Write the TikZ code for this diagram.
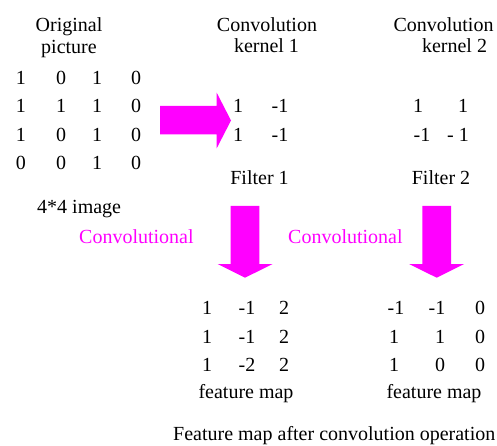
\documentclass[tikz,border=0pt]{standalone}
\usepackage{fontspec}
\setmainfont{Liberation Serif}
\definecolor{mag}{HTML}{FF00FF}
\begin{document}
\begin{tikzpicture}[x=1pt,y=-1pt,
  txt/.style={inner sep=0pt,anchor=base,font=\fontsize{20}{24}\selectfont},
  txtl/.style={txt,anchor=base west},
  magtxt/.style={txtl,text=mag},
  blockarrow/.style={fill=mag,draw=none}]
\useasboundingbox (0,0) rectangle (497,446);
% headings
\node[txt] (orig1) at (69,31.7) {Original};
\node[txt] (orig2) at (69,54) {picture};
\node[txt] (k1a) at (267,32) {Convolution};
\node[txt] (k1b) at (266.5,53) {kernel 1};
\node[txt] (k2a) at (443.5,32) {Convolution};
\node[txt] (k2b) at (454.5,53) {kernel 2};
% original matrix
\foreach \r/\y/\a/\b/\c/\d in {1/85/1/0/1/0, 2/113/1/1/1/0, 3/142/1/0/1/0, 4/170/0/0/1/0}{
  \node[txt] (o\r1) at (21,\y) {\a};
  \node[txt] (o\r2) at (61,\y) {\b};
  \node[txt] (o\r3) at (97,\y) {\c};
  \node[txt] (o\r4) at (136,\y) {\d};
}
% kernel 1
\node[txt] (ka11) at (238,113) {1};
\node[txt] (ka12) at (280,113) {-1};
\node[txt] (ka21) at (238,142) {1};
\node[txt] (ka22) at (280,142) {-1};
% kernel 2
\node[txt] (kb11) at (418,113) {1};
\node[txt] (kb12) at (463,113) {1};
\node[txt] (kb21) at (422,142) {-1};
\node[txt] (kb22) at (458,142) {- 1};
% filters
\node[txt] (f1) at (259.5,185) {Filter 1};
\node[txt] (f2) at (441,185) {Filter 2};
\node[txtl] (img) at (37,213) {4*4 image};
\node[magtxt] (conv1) at (79,243) {Convolutional};
\node[magtxt] (conv2) at (288,243) {Convolutional};
% feature map 1
\foreach \r/\y/\a/\b/\c in {1/314/1/-1/2, 2/343/1/-1/2, 3/371/1/-2/2}{
  \node[txt] (fa\r1) at (207,\y) {\a};
  \node[txt] (fa\r2) at (247,\y) {\b};
  \node[txt] (fa\r3) at (284,\y) {\c};
}
% feature map 2
\node[txt] (fb11) at (396,314) {-1};
\node[txt] (fb12) at (437,314) {-1};
\node[txt] (fb13) at (480,314) {0};
\node[txt] (fb21) at (394,343) {1};
\node[txt] (fb22) at (440,343) {1};
\node[txt] (fb23) at (480,343) {0};
\node[txt] (fb31) at (394,371) {1};
\node[txt] (fb32) at (440,371) {0};
\node[txt] (fb33) at (480,371) {0};
\node[txt] (fm1) at (246,398) {feature map};
\node[txt] (fm2) at (434,398) {feature map};
\node[txtl] (final) at (173,440) {Feature map after convolution operation};
% block arrows
\fill[blockarrow] (160,106) -- (216.7,106) -- (216.7,92.7) -- (231,120.5) -- (216.7,148.3) -- (216.7,134.3) -- (160,134.3) -- cycle;
\fill[blockarrow] (230.7,206) -- (259.3,206) -- (259.3,264) -- (272.7,264) -- (245,277.7) -- (217.7,264) -- (230.7,264) -- cycle;
\fill[blockarrow] (422.3,206) -- (451,206) -- (451,264) -- (464,264) -- (436.7,277.7) -- (409,264) -- (422.3,264) -- cycle;
\end{tikzpicture}
\end{document}
